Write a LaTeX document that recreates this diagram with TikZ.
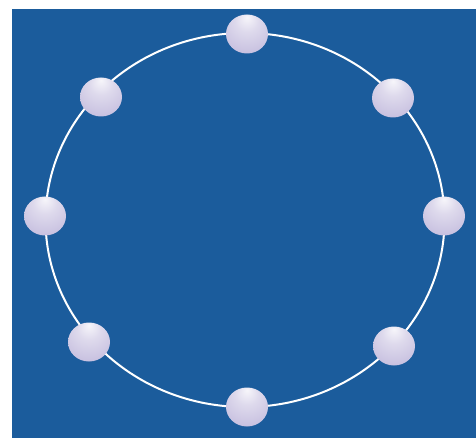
\documentclass[tikz,border=0pt]{standalone}
\usepackage{tikz}
\usetikzlibrary{shapes.geometric}

\definecolor{sea}{RGB}{27,92,156}
\definecolor{pearlmid}{RGB}{200,193,224}
\definecolor{pearlrim}{RGB}{186,176,214}
\pgfdeclareradialshading{pearl}{\pgfpoint{0bp}{22bp}}{color(0bp)=(white!85!pearlmid); color(14bp)=(white!40!pearlmid); color(34bp)=(pearlmid); color(60bp)=(pearlrim)}

\begin{document}
\begin{tikzpicture}[x=1pt, y=-1pt,
	bead/.style={ellipse, shading=pearl, minimum width=42pt, minimum height=39pt, inner sep=0pt}]
	\fill[white] (0,0) rectangle (476,438);
	\useasboundingbox (0,0) rectangle (476,438);
	\fill[sea] (12,9) rectangle (476,438);
	\draw[white, line width=2pt] (245,220) ellipse [x radius=199.5, y radius=187];
	\foreach \name/\x/\y in {top/247/34, tr/393/98, right/444/216, br/394/346, bottom/247/407, bl/89/342, left/45/216, tl/101/97} {
		\node[bead] (\name) at (\x,\y) {};
	}
\end{tikzpicture}
\end{document}
